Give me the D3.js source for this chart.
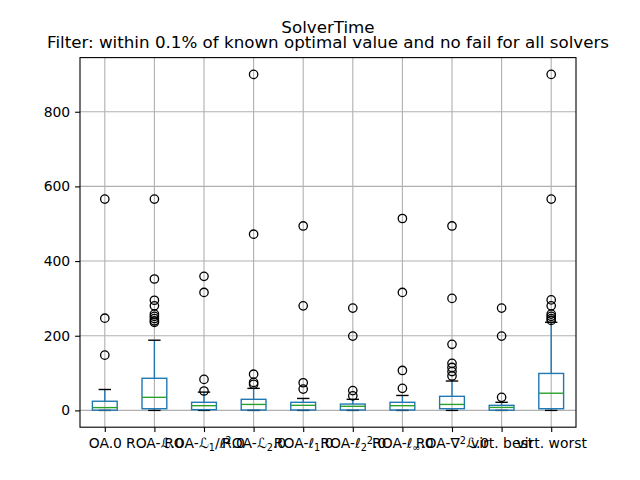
<!DOCTYPE html>
<html><head><meta charset="utf-8">
<script src="https://cdn.jsdelivr.net/npm/d3@7"></script>
<style>body{margin:0;background:#fff}svg{display:block;font-family:"DejaVu Sans",sans-serif}</style>
</head><body>
<svg id="c" width="640" height="480"></svg>
<script>
const categories = ["OA.0","ROA-L.0","ROA-L1/l2.0","ROA-L2.0","ROA-l1.0","ROA-l22.0","ROA-linf.0","ROA-dL.0","virt. best","virt. worst"];
// tick labels as [text, kind] pieces: n = normal, b = subscript, p = superscript
const tickLabels = [
  [["OA.0","n"]],
  [["ROA-ℒ.0","n"]],
  [["ROA-ℒ","n"],["1","b"],["/ℓ","n"],["2","p"],[".0","n"]],
  [["ROA-ℒ","n"],["2","b"],[".0","n"]],
  [["ROA-ℓ","n"],["1","b"],[".0","n"]],
  [["ROA-ℓ","n"],["2","b"],["2","p"],[".0","n"]],
  [["ROA-ℓ","n"],["∞","b"],[".0","n"]],
  [["ROA-∇","n"],["2","p"],["ℒ.0","n"]],
  [["virt. best","n"]],
  [["virt. worst","n"]]
];
const whiskerLow  = [0, 0, 0, 0, 0, 0, 0, 0, 0, 0];
const q1          = [0.5, 4.5, 2, 1, 1, 1, 1, 4.5, 0.5, 4.5];
const median      = [7.5, 35, 12.6, 16, 13.6, 11, 12.6, 16, 8, 46];
const q3          = [24.5, 86, 21.7, 29.7, 21.7, 17, 21.7, 37.7, 13.6, 99];
const whiskerHigh = [56, 188, 49, 59, 32, 29.7, 40, 78.7, 21.7, 236];
const outliers = [
  [566, 247, 148],
  [566, 352, 295, 280, 258, 252, 246, 240, 236],
  [359, 316, 83, 52],
  [900, 472, 97, 75, 70],
  [494, 280, 74, 57],
  [274, 199, 53, 39],
  [514, 316, 107, 59],
  [494, 300, 177, 126, 115, 104, 92],
  [274, 199, 35],
  [900, 566, 296, 280, 258, 252, 246, 241]
];
const yTicks = [0, 200, 400, 600, 800];
const titleLines = ["SolverTime", "Filter: within 0.1% of known optimal value and no fail for all solvers"];

const svg = d3.select("#c");
const L = 80, R = 576, T = 57.6, B = 427.2;
const x = d3.scaleLinear().domain([0.5, categories.length + 0.5]).range([L, R]);
const y = d3.scaleLinear().domain([-45, 945]).range([B, T]);
const blue = "#1f77b4", green = "#2ca02c";
const lw = 1.39;

// grid
const g = svg.append("g");
g.selectAll(".gx").data(categories).enter().append("line")
  .attr("x1", (d,i)=>x(i+1)).attr("x2", (d,i)=>x(i+1)).attr("y1", T).attr("y2", B)
  .attr("stroke", "#b0b0b0").attr("stroke-width", 1.1);
g.selectAll(".gy").data(yTicks).enter().append("line")
  .attr("x1", L).attr("x2", R).attr("y1", d=>y(d)).attr("y2", d=>y(d))
  .attr("stroke", "#b0b0b0").attr("stroke-width", 1.1);

// axes
const xAxis = d3.axisBottom(x).tickValues(categories.map((d,i)=>i+1)).tickFormat("").tickSizeOuter(0).tickSize(4.9);
const ax = svg.append("g").attr("transform", `translate(0,${B})`).call(xAxis);
ax.select(".domain").remove();
ax.selectAll(".tick line").attr("stroke", "#000").attr("stroke-width", 1.1);
ax.selectAll(".tick").each(function(d, i) {
  const t = d3.select(this).append("text").attr("y", 21).attr("fill", "#000")
    .attr("text-anchor", "middle").style("font-size", "13.9px").style("font-family", '"DejaVu Sans",sans-serif');
  let shift = 0;
  tickLabels[i].forEach(([s, k]) => {
    const ts = t.append("tspan").text(s);
    let target = k === "b" ? 2.5 : (k === "p" ? -4 : 0);
    if (target !== shift) { ts.attr("dy", target - shift); shift = target; }
    if (k !== "n") ts.style("font-size", "9.7px");
  });
});

const yAxis = d3.axisLeft(y).tickValues(yTicks).tickSize(4.9).tickPadding(4.9).tickSizeOuter(0);
const ay = svg.append("g").attr("transform", `translate(${L},0)`).call(yAxis);
ay.select(".domain").remove();
ay.selectAll(".tick line").attr("stroke", "#000").attr("stroke-width", 1.1);
ay.selectAll(".tick text").attr("fill", "#000").style("font-size", "13.9px").style("font-family", '"DejaVu Sans",sans-serif');

// boxes
const hw = 0.25, cw = 0.125;
const bg = svg.append("g");
categories.forEach((c, i) => {
  const p = i + 1;
  bg.append("line").attr("x1", x(p)).attr("x2", x(p)).attr("y1", y(q1[i])).attr("y2", y(whiskerLow[i]))
    .attr("stroke", blue).attr("stroke-width", lw);
  bg.append("line").attr("x1", x(p)).attr("x2", x(p)).attr("y1", y(q3[i])).attr("y2", y(whiskerHigh[i]))
    .attr("stroke", blue).attr("stroke-width", lw);
  [whiskerLow[i], whiskerHigh[i]].forEach(v => {
    bg.append("line").attr("x1", x(p - cw)).attr("x2", x(p + cw)).attr("y1", y(v)).attr("y2", y(v))
      .attr("stroke", "#000").attr("stroke-width", lw);
  });
  bg.append("rect").attr("x", x(p - hw)).attr("width", x(p + hw) - x(p - hw))
    .attr("y", y(q3[i])).attr("height", y(q1[i]) - y(q3[i]))
    .attr("fill", "none").attr("stroke", blue).attr("stroke-width", lw);
  bg.append("line").attr("x1", x(p - hw)).attr("x2", x(p + hw)).attr("y1", y(median[i])).attr("y2", y(median[i]))
    .attr("stroke", green).attr("stroke-width", lw);
  bg.selectAll(null).data(outliers[i]).enter().append("circle")
    .attr("cx", x(p)).attr("cy", d => y(d)).attr("r", 4.2)
    .attr("fill", "none").attr("stroke", "#000").attr("stroke-width", 1.3);
});

// frame
svg.append("rect").attr("x", L).attr("y", T).attr("width", R - L).attr("height", B - T)
  .attr("fill", "none").attr("stroke", "#000").attr("stroke-width", 1.1);

// title
svg.selectAll(".title").data(titleLines).enter().append("text")
  .attr("x", (L + R) / 2).attr("y", (d, i) => 32.5 + i * 15.5)
  .attr("text-anchor", "middle").attr("fill", "#000").style("font-size", "16.7px")
  .text(d => d);
</script>
</body></html>
